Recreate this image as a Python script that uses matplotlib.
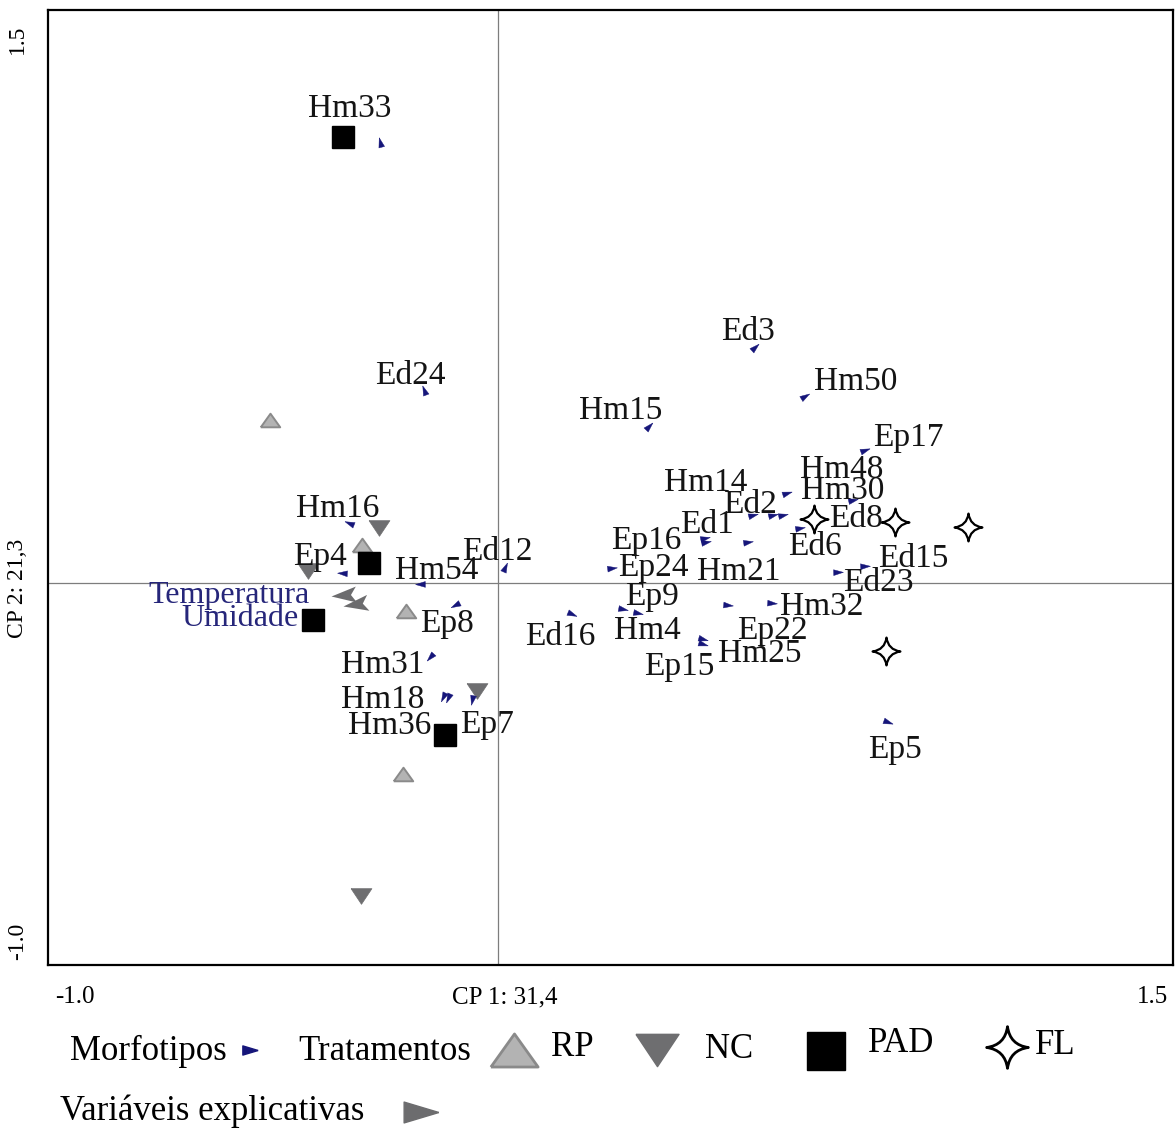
import numpy as np
import matplotlib.pyplot as plt
from matplotlib.markers import MarkerStyle
from matplotlib.path import Path
from matplotlib.transforms import Affine2D

plt.rcParams['font.family'] = ['Liberation Serif', 'DejaVu Serif']

# Morfotipos - scores on CP1 / CP2
morfotipos = ['Hm33', 'Ed24', 'Ed3', 'Hm50', 'Hm15', 'Ep17', 'Hm48', 'Hm30', 'Hm14',
              'Ed2', 'Ed8', 'Ed6', 'Ep16', 'Ed1', 'Hm21', 'Ep24', 'Ed15', 'Ed23',
              'Ep9', 'Hm4', 'Ep22', 'Hm32', 'Ep15', 'Hm25', 'Ed16', 'Ep5', 'Ed12',
              'Hm54', 'Hm16', 'Ep4', 'Ep8', 'Hm31', 'Hm18', 'Hm36', 'Ep7']
morf_cp1 = [-0.262, -0.164, 0.571, 0.682, 0.336, 0.816, 0.642, 0.789, 0.567,
            0.611, 0.633, 0.671, 0.460, 0.462, 0.556, 0.253, 0.816, 0.756,
            0.278, 0.311, 0.511, 0.609, 0.456, 0.456, 0.164, 0.867, 0.016,
            -0.173, -0.331, -0.347, -0.096, -0.151, -0.122, -0.111, -0.058]
morf_cp2 = [1.154, 0.505, 0.618, 0.490, 0.411, 0.348, 0.236, 0.217, 0.178,
            0.178, 0.178, 0.144, 0.118, 0.107, 0.107, 0.039, 0.045, 0.029,
            -0.068, -0.079, -0.058, -0.052, -0.147, -0.160, -0.081, -0.364, 0.042,
            -0.003, 0.157, 0.026, -0.058, -0.194, -0.298, -0.301, -0.306]

# where each label sits relative to its arrow head (pixels, x right / y up)
label_dx = [-30, -14, -7, 51, -29, 43, 55, -10, -47,
            -23, 73, 15, -59, 1, -9, 41, 48, 40,
            29, 9, 44, 50, -24, 57, -12, 7, -8,
            17, -11, -22, -8, -47, -60, -58, 15]
label_dy = [37, 18, 19, 18, 19, 16, 27, 13, 36,
            14, 0, -15, 1, 21, -26, 4, 11, -7,
            16, -14, -22, 0, -24, -6, -19, -24, 19,
            17, 18, 20, -15, -4, 1, -24, -21]

# Tratamentos - sample scores
rp_cp1 = [-0.507, -0.302, -0.204, -0.211]
rp_cp2 = [0.427, 0.099, -0.073, -0.500]
nc_cp1 = [-0.264, -0.422, -0.047, -0.304]
nc_cp2 = [0.144, 0.031, -0.283, -0.819]
pad_cp1 = [-0.344, -0.287, -0.411, -0.118]
pad_cp2 = [1.168, 0.052, -0.097, -0.398]
fl_cp1 = [0.702, 0.882, 1.044, 0.862]
fl_cp2 = [0.168, 0.160, 0.147, -0.178]

# Variaveis explicativas (arrow tips)
variaveis = ['Temperatura', 'Umidade']
var_cp1 = [-0.371, -0.344]
var_cp2 = [-0.034, -0.060]

navy = '#16167a'
gray_arrow = '#6c6c6e'

# marker shapes
head = np.array([[1, 0], [-1, 0.6], [-1, -0.6], [1, 0]])
var_head = np.array([[0, 0], [-1, 0.32], [-0.78, 0], [-1, -0.32], [0, 0]])
up_tri = [(-1, -0.7), (1, -0.7), (0, 0.7), (-1, -0.7)]
down_tri = [(-1, 0.75), (1, 0.75), (0, -0.75), (-1, 0.75)]
c = 0.12
star = Path([(0, 1), (c, c), (1, 0), (c, -c), (0, -1), (-c, -c), (-1, 0), (-c, c), (0, 1), (0, 1)],
            [Path.MOVETO, Path.CURVE3, Path.LINETO, Path.CURVE3, Path.LINETO,
             Path.CURVE3, Path.LINETO, Path.CURVE3, Path.LINETO, Path.CLOSEPOLY])

fig = plt.figure(figsize=(11.76, 11.28), dpi=100)
ax = fig.add_axes([48 / 1176, 163 / 1128, 1125 / 1176, 955 / 1128])
ax.set_xlim(-1.0, 1.5)
ax.set_ylim(-1.0, 1.5)
ax.set_xticks([])
ax.set_yticks([])
for s in ax.spines.values():
    s.set_linewidth(1.6)
    s.set_color('black')

ax.axhline(0, color='#7d7d7d', lw=0.9, zorder=1)
ax.axvline(0, color='#7d7d7d', lw=0.9, zorder=1)


def screen_angle(x, y):
    #direction of the vector from the origin, as it appears on screen
    p0 = ax.transData.transform((0, 0))
    p1 = ax.transData.transform((x, y))
    return np.degrees(np.arctan2(p1[1] - p0[1], p1[0] - p0[0]))


# treatments
ax.plot(rp_cp1, rp_cp2, ls='none', marker=up_tri, ms=14, mfc='#b3b3b3', mec='#8a8a8a', mew=1.4, zorder=3)
ax.plot(nc_cp1, nc_cp2, ls='none', marker=down_tri, ms=15, mfc='#6e6e70', mec='#6e6e70', mew=0.5, zorder=3)
ax.plot(pad_cp1, pad_cp2, ls='none', marker='s', ms=16, mfc='black', mec='black', zorder=3)
ax.plot(fl_cp1, fl_cp2, ls='none', marker=star, ms=20, mfc='white', mec='black', mew=1.6, zorder=3)

# morphotype arrow heads + labels
for name, x, y, dx, dy in zip(morfotipos, morf_cp1, morf_cp2, label_dx, label_dy):
    ang = screen_angle(x, y)
    m = MarkerStyle(head, transform=Affine2D().rotate_deg(ang))
    ax.plot([x], [y], ls='none', marker=m, ms=7, color=navy, mew=0.3, zorder=4)
    ax.annotate(name, (x, y), xytext=(dx, dy), textcoords='offset pixels',
                ha='center', va='center_baseline', fontsize=24, color='#141414', zorder=5)

# explanatory variables
var_lab = {'Temperatura': (-21, 4), 'Umidade': (-45, -9)}
for name, x, y in zip(variaveis, var_cp1, var_cp2):
    ang = screen_angle(x, y)
    m = MarkerStyle(var_head, transform=Affine2D().rotate_deg(ang))
    ax.plot([x], [y], ls='none', marker=m, ms=36, color=gray_arrow, mew=0, zorder=4)
    dx, dy = var_lab[name]
    ax.annotate(name, (x, y), xytext=(dx, dy), textcoords='offset pixels',
                ha='right', va='center_baseline', fontsize=23, color='#26267a', zorder=5)

# axis annotations
ax.text(0.024, -0.034, '-1.0', transform=ax.transAxes, ha='center', va='center', fontsize=18)
ax.text(0.982, -0.034, '1.5', transform=ax.transAxes, ha='center', va='center', fontsize=18)
ax.text(0.406, -0.034, 'CP 1: 31,4', transform=ax.transAxes, ha='center', va='center', fontsize=18)
ax.text(-0.027, 0.985, '1.5', transform=ax.transAxes, ha='center', va='top', rotation=90, fontsize=17)
ax.text(-0.027, 0.005, '-1.0', transform=ax.transAxes, ha='center', va='bottom', rotation=90, fontsize=17)
ax.text(-0.027, 0.394, 'CP 2: 21,3', transform=ax.transAxes, ha='center', va='center', rotation=90, fontsize=17)

# legend drawn below the plot, in figure pixels
lax = fig.add_axes([0, 0, 1, 1])
lax.set_xlim(0, 1176)
lax.set_ylim(1128, 0)
lax.axis('off')
lax.patch.set_alpha(0)

fs = 25
lax.text(70, 1051, 'Morfotipos', ha='left', va='center', fontsize=fs)
lax.plot([250], [1050], ls='none', marker=head, ms=11, color=navy)
lax.text(298, 1051, 'Tratamentos', ha='left', va='center', fontsize=fs)
lax.plot([514], [1050], ls='none', marker=up_tri, ms=34, mfc='#b3b3b3', mec='#8a8a8a', mew=2)
lax.text(551, 1048, 'RP', ha='left', va='center', fontsize=fs)
lax.plot([657], [1050], ls='none', marker=down_tri, ms=31, mfc='#6e6e70', mec='#6e6e70')
lax.text(705, 1049, 'NC', ha='left', va='center', fontsize=fs)
lax.plot([826], [1051], ls='none', marker='s', ms=28, mfc='black', mec='black')
lax.text(868, 1043, 'PAD', ha='left', va='center', fontsize=fs)
lax.plot([1007], [1047], ls='none', marker=star, ms=30, mfc='white', mec='black', mew=2)
lax.text(1035, 1045, 'FL', ha='left', va='center', fontsize=fs)
lax.text(60, 1111, 'Variáveis explicativas', ha='left', va='center', fontsize=fs)
lax.plot([421], [1112], ls='none', marker=head, ms=25, color=gray_arrow)

fig.savefig('out.png', dpi=100)
